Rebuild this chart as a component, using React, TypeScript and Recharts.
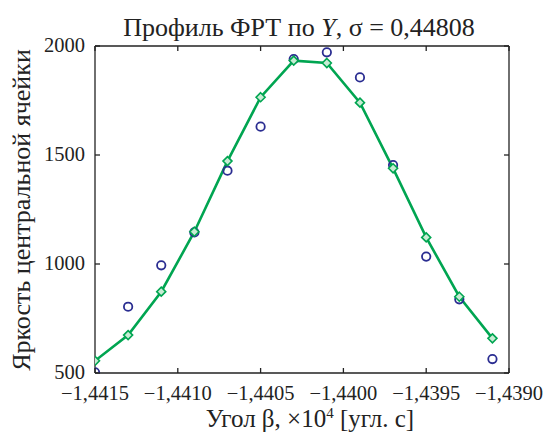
import React from 'react'
import {
  ComposedChart, Line, Scatter, XAxis, YAxis, Label,
} from 'recharts'

// угол β (×10^4 угл. с)
const angles = [
  -1.4415, -1.4413, -1.4411, -1.4409, -1.4407, -1.4405, -1.4403,
  -1.4401, -1.4399, -1.4397, -1.4395, -1.4393, -1.4391,
]
// измеренная яркость центральной ячейки (кружки)
const measured = [503, 804, 994, 1145, 1428, 1630, 1940, 1971, 1856, 1454, 1034, 838, 564]
// аппроксимация гауссианой (ромбы)
const fitted = [556, 674, 873, 1148, 1472, 1765, 1933, 1922, 1740, 1439, 1122, 850, 659]

const xTicks = [-1.4415, -1.441, -1.4405, -1.44, -1.4395, -1.439]
const yTicks = [500, 1000, 1500, 2000]

const rows = angles.map((x, i) => ({ x, measured: measured[i], fitted: fitted[i] }))

const FONT = '"Liberation Serif", "Times New Roman", serif'
const AXIS = '#222'
const GREEN = '#00a551'
const BLUE = '#2a2d91'

const fmtX = (v: number) => v.toFixed(4).replace('.', ',').replace('-', '\u2212')

function BottomTick({ x, y, payload }: any) {
  return (
    <g>
      <line x1={x} y1={y} x2={x} y2={y - 5} stroke={AXIS} strokeWidth={1.3} />
      <text x={x} y={y + 27} textAnchor="middle" fontSize={20.5} fontFamily={FONT} fill={AXIS}>
        {fmtX(payload.value)}
      </text>
    </g>
  )
}

function TopTick({ x, y }: any) {
  return <line x1={x} y1={y} x2={x} y2={y + 5} stroke={AXIS} strokeWidth={1.3} />
}

function LeftTick({ x, y, payload }: any) {
  return (
    <g>
      <line x1={x} y1={y} x2={x + 5} y2={y} stroke={AXIS} strokeWidth={1.3} />
      <text x={x - 10} y={y + 6} textAnchor="end" fontSize={20.5} fontFamily={FONT} fill={AXIS}>
        {payload.value}
      </text>
    </g>
  )
}

function RightTick({ x, y }: any) {
  return <line x1={x} y1={y} x2={x - 5} y2={y} stroke={AXIS} strokeWidth={1.3} />
}

function Diamond({ cx, cy }: any) {
  if (cx == null || cy == null) return null
  const r = 4.5
  return (
    <polygon
      points={`${cx},${cy - r} ${cx + r},${cy} ${cx},${cy + r} ${cx - r},${cy}`}
      fill="#c8ecd4"
      stroke={GREEN}
      strokeWidth={1.6}
    />
  )
}

function Ring({ cx, cy }: any) {
  return <circle cx={cx} cy={cy} r={4.2} fill="none" stroke={BLUE} strokeWidth={1.8} />
}

const Title = () => (
  <text x={291} y={28} textAnchor="middle" fontSize={26} fontFamily={FONT} fill={AXIS}>
    Профиль ФРТ по <tspan fontStyle="italic">Y</tspan>, σ = 0,44808
  </text>
)

const XTitle = () => (
  <text x={302} y={419} textAnchor="middle" fontSize={25} fontFamily={FONT} fill={AXIS}>
    Угол β, ×10<tspan dy={-9} fontSize={15}>4</tspan><tspan dy={9}> [угл. с]</tspan>
  </text>
)

const YTitle = () => (
  <text
    x={0} y={0}
    transform="translate(22, 202) rotate(-90)"
    textAnchor="middle" fontSize={26} fontFamily={FONT} fill={AXIS}
  >
    Яркость центральной ячейки
  </text>
)

export default function App() {
  return (
    <ComposedChart
      width={543}
      height={428}
      data={rows}
      margin={{ top: 28, right: 32, bottom: 23, left: 27 }}
    >
      <XAxis
        dataKey="x"
        type="number"
        domain={[-1.4415, -1.439]}
        ticks={xTicks}
        allowDataOverflow
        height={40}
        tickSize={0}
        tickMargin={0}
        tickLine={false}
        tick={<BottomTick />}
        axisLine={{ stroke: AXIS, strokeWidth: 1.3 }}
        label={<Label content={<XTitle />} />}
      />
      <XAxis
        xAxisId="top"
        orientation="top"
        dataKey="x"
        type="number"
        domain={[-1.4415, -1.439]}
        ticks={xTicks}
        allowDataOverflow
        height={10}
        tickSize={0}
        tickMargin={0}
        tickLine={false}
        tick={<TopTick />}
        axisLine={{ stroke: AXIS, strokeWidth: 1.3 }}
        label={<Label content={<Title />} />}
      />
      <YAxis
        type="number"
        domain={[500, 2000]}
        ticks={yTicks}
        allowDataOverflow
        width={60}
        tickSize={0}
        tickMargin={0}
        tickLine={false}
        tick={<LeftTick />}
        axisLine={{ stroke: AXIS, strokeWidth: 1.3 }}
        label={<Label content={<YTitle />} />}
      />
      <YAxis
        yAxisId="right"
        orientation="right"
        type="number"
        domain={[500, 2000]}
        ticks={yTicks}
        allowDataOverflow
        width={10}
        tickSize={0}
        tickMargin={0}
        tickLine={false}
        tick={<RightTick />}
        axisLine={{ stroke: AXIS, strokeWidth: 1.3 }}
      />
      <Scatter dataKey="measured" shape={<Ring />} isAnimationActive={false} />
      <Line
        type="linear"
        dataKey="fitted"
        stroke={GREEN}
        strokeWidth={2.6}
        dot={<Diamond />}
        activeDot={false}
        isAnimationActive={false}
      />
    </ComposedChart>
  )
}
